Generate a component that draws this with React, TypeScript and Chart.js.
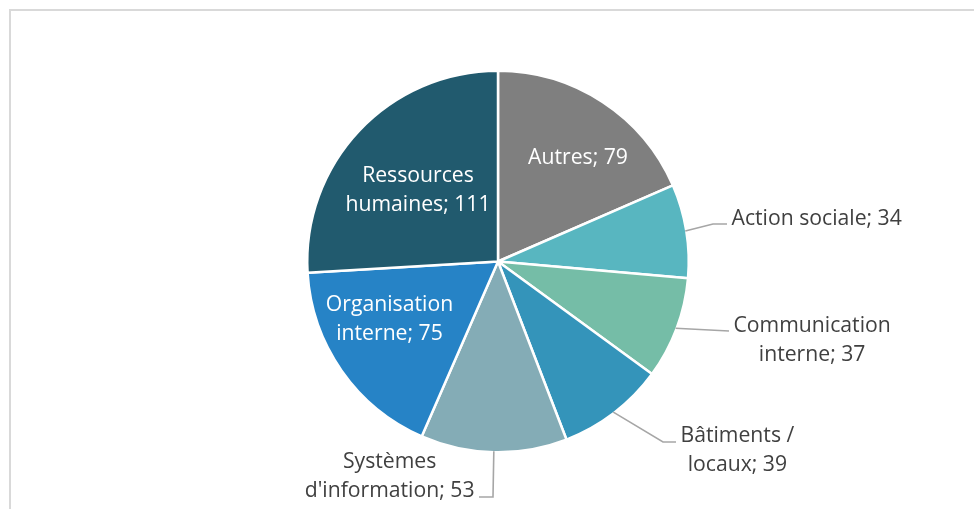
import React, { useEffect, useRef } from "react";
import { Chart, ArcElement, PieController } from "chart.js";

Chart.register(ArcElement, PieController);

// Requests per domain, clockwise from 12 o'clock
const categories = [
  "Autres",
  "Action sociale",
  "Communication interne",
  "Bâtiments / locaux",
  "Systèmes d'information",
  "Organisation interne",
  "Ressources humaines",
];
const counts = [79, 34, 37, 39, 53, 75, 111];
const sliceColors = ["#7f7f7f", "#58b6c0", "#75bda7", "#3494ba", "#84acb6", "#2683c6", "#215a6e"];
// number of words kept on the first line of each label (0 = one line)
const firstLineWords = [0, 0, 1, 2, 1, 1, 1];

type LabelLayout =
  | { kind: "inside"; dx: number; baseline: number }
  | { kind: "outside"; elbow: [number, number] | null; end: [number, number]; baseline: number };

// label placement, in px relative to the pie centre
const labelLayout: LabelLayout[] = [
  { kind: "inside", dx: 80, baseline: -97.5 },
  { kind: "outside", elbow: [215, -37.5], end: [229, -37.5], baseline: -36.5 },
  { kind: "outside", elbow: null, end: [231, 69.5], baseline: 70.5 },
  { kind: "outside", elbow: [165, 180.5], end: [178, 180.5], baseline: 180.5 },
  { kind: "outside", elbow: [-5, 235.5], end: [-19, 235.5], baseline: 206.5 },
  { kind: "inside", dx: -108.5, baseline: 49.2 },
  { kind: "inside", dx: -80, baseline: -79.8 },
];

const FONT = '21.2px "Open Sans"';
const LINE_HEIGHT = 29;
const GAP = 4.5;

function labelLines(i: number): string[] {
  const words = `${categories[i]}; ${counts[i]}`.split(" ");
  const n = firstLineWords[i];
  if (!n) return [words.join(" ")];
  return [words.slice(0, n).join(" "), words.slice(n).join(" ")];
}

const frame = {
  id: "frame",
  beforeDraw(chart: Chart) {
    const ctx = chart.ctx;
    ctx.save();
    ctx.strokeStyle = "#d9d9d9";
    ctx.lineWidth = 2;
    ctx.strokeRect(10, 10, chart.width + 20, chart.height + 20);
    ctx.restore();
  },
};

const sliceLabels = {
  id: "sliceLabels",
  afterDatasetsDraw(chart: Chart) {
    const ctx = chart.ctx;
    const arcs = chart.getDatasetMeta(0).data as any[];
    ctx.save();
    ctx.font = FONT;
    ctx.textBaseline = "alphabetic";
    arcs.forEach((arc, i) => {
      const { x, y, startAngle, endAngle, outerRadius } = arc.getProps(
        ["x", "y", "startAngle", "endAngle", "outerRadius"],
        true
      );
      const lines = labelLines(i);
      const layout = labelLayout[i];
      if (layout.kind === "inside") {
        ctx.fillStyle = "#ffffff";
        ctx.textAlign = "center";
        lines.forEach((t, k) => ctx.fillText(t, x + layout.dx, y + layout.baseline + k * LINE_HEIGHT));
        return;
      }
      const mid = (startAngle + endAngle) / 2;
      const r = outerRadius - 1;
      const sx = x + r * Math.cos(mid);
      const sy = y + r * Math.sin(mid);
      const ex = x + layout.end[0];
      const ey = y + layout.end[1];
      ctx.strokeStyle = "#a6a6a6";
      ctx.lineWidth = 1.6;
      ctx.beginPath();
      ctx.moveTo(sx, sy);
      if (layout.elbow) ctx.lineTo(x + layout.elbow[0], y + layout.elbow[1]);
      ctx.lineTo(ex, ey);
      ctx.stroke();

      const widths = lines.map((t) => ctx.measureText(t).width);
      const blockW = Math.max(...widths);
      const right = ex > x;
      const left = right ? ex + GAP : ex - GAP - blockW;
      const cx = left + blockW / 2;
      ctx.fillStyle = "#404040";
      ctx.textAlign = "center";
      lines.forEach((t, k) => ctx.fillText(t, cx, y + layout.baseline + k * LINE_HEIGHT));
    });
    ctx.restore();
  },
};

export default function App() {
  const ref = useRef<HTMLCanvasElement>(null);

  useEffect(() => {
    let chart: Chart | null = null;
    let cancelled = false;
    const build = () => {
      if (cancelled || !ref.current) return;
      chart = new Chart(ref.current, {
        type: "pie",
        data: {
          labels: categories,
          datasets: [
            {
              data: counts,
              backgroundColor: sliceColors,
              borderColor: "#ffffff",
              borderWidth: 2.5,
            },
          ],
        },
        options: {
          responsive: false,
          animation: false,
          devicePixelRatio: 1,
          layout: { padding: { left: 306, right: 284, top: 69.5, bottom: 55.5 } },
          plugins: { legend: { display: false }, tooltip: { enabled: false } },
          events: [],
        },
        plugins: [frame, sliceLabels],
      });
    };
    const fonts = (document as any).fonts;
    if (fonts && fonts.load) fonts.load(FONT).then(build, build);
    else build();
    return () => {
      cancelled = true;
      if (chart) chart.destroy();
    };
  }, []);

  return (
    <div style={{ position: "fixed", left: 0, top: 0, width: 974, height: 509, background: "#ffffff" }}>
      <canvas ref={ref} width={974} height={509} style={{ display: "block" }} />
    </div>
  );
}
